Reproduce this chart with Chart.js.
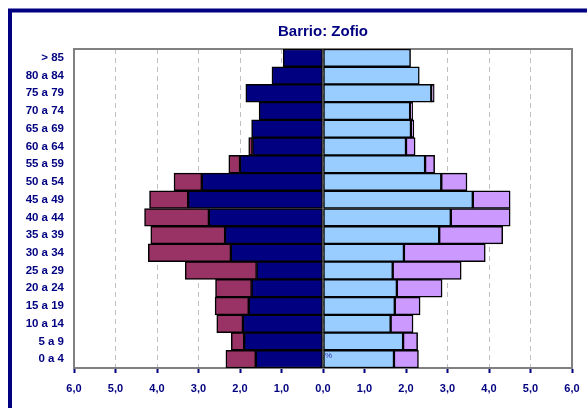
<!DOCTYPE html>
<html>
<head>
<meta charset="utf-8">
<script src="https://cdn.jsdelivr.net/npm/chart.js@4/dist/chart.umd.min.js"></script>
<style>
    body { margin: 0; background: #ffffff; }
    #wrap { width: 587px; height: 408px; }
</style>
</head>
<body>
<div id="wrap"><canvas id="myChart" width="587" height="408"></canvas></div>
<script>
const ageGroups = ["> 85", "80 a 84", "75 a 79", "70 a 74", "65 a 69", "60 a 64", "55 a 59", "50 a 54", "45 a 49",
    "40 a 44", "35 a 39", "30 a 34", "25 a 29", "20 a 24", "15 a 19", "10 a 14", "5 a 9", "0 a 4"];

// left side (men): spanish and foreign, % of population
const menSpanish = [0.96, 1.23, 1.86, 1.54, 1.72, 1.70, 2.00, 2.92, 3.25, 2.75, 2.36, 2.22, 1.60, 1.72, 1.79, 1.93, 1.90, 1.62];
const menForeign = [0.00, 0.00, 0.00, 0.00, 0.00, 0.09, 0.27, 0.67, 0.93, 1.55, 1.79, 1.99, 1.72, 0.87, 0.81, 0.63, 0.31, 0.72];

// right side (women)
const womenSpanish = [2.11, 2.32, 2.61, 2.10, 2.12, 2.00, 2.46, 2.85, 3.61, 3.08, 2.80, 1.95, 1.68, 1.78, 1.73, 1.63, 1.93, 1.71];
const womenForeign = [0.00, 0.00, 0.07, 0.06, 0.07, 0.22, 0.23, 0.62, 0.90, 1.43, 1.53, 1.96, 1.65, 1.09, 0.61, 0.54, 0.35, 0.59];

const navy = "#000080";
const font = "'Liberation Sans', Arial, sans-serif";

const frames = {
    id: "frames",
    beforeDraw(chart) {
        const ctx = chart.ctx;
        ctx.save();
        ctx.strokeStyle = navy;
        ctx.lineWidth = 4;
        ctx.strokeRect(10, 10.5, 640, 460);
        ctx.restore();
    },
    beforeDatasetsDraw(chart) {
        const a = chart.chartArea;
        const ctx = chart.ctx;
        ctx.save();
        ctx.strokeStyle = "#808080";
        ctx.lineWidth = 2;
        ctx.strokeRect(a.left, a.top, a.right - a.left, a.bottom - a.top);
        ctx.restore();
    },
    afterDatasetsDraw(chart) {
        const ctx = chart.ctx;
        const x = chart.scales.x.getPixelForValue(0);
        const y = chart.scales.y.getPixelForValue(ageGroups.length - 1);
        ctx.save();
        ctx.fillStyle = "#3333aa";
        ctx.font = "8px " + font;
        ctx.fillText("%", x + 2, y - 1);
        ctx.restore();
    }
};

const makeSet = (label, values, color, sign) => ({
    label: label,
    data: values.map(v => v * sign),
    backgroundColor: color,
    borderColor: "#000000",
    borderWidth: 1.5,
    borderSkipped: false,
    categoryPercentage: 1,
    barPercentage: 1,
    stack: "p"
});

new Chart("myChart", {
    type: "bar",
    data: {
        labels: ageGroups,
        datasets: [
            makeSet("Hombres españoles", menSpanish, "#000080", -1),
            makeSet("Hombres extranjeros", menForeign, "#993366", -1),
            makeSet("Mujeres españolas", womenSpanish, "#99ccff", 1),
            makeSet("Mujeres extranjeras", womenForeign, "#cc99ff", 1)
        ]
    },
    options: {
        indexAxis: "y",
        responsive: false,
        animation: false,
        layout: {
            padding: { top: 10, right: 15, left: 0, bottom: 0 }
        },
        scales: {
            x: {
                stacked: true,
                min: -6,
                max: 6,
                ticks: {
                    stepSize: 1,
                    color: navy,
                    padding: 9,
                    maxRotation: 0,
                    font: { family: font, size: 11, weight: "bold" },
                    callback: v => Math.abs(v).toFixed(1).replace(".", ",")
                },
                grid: {
                    color: "#c0c0c0",
                    lineWidth: 1,
                    tickColor: navy,
                    tickWidth: 2,
                    tickLength: 5,
                    tickBorderDash: []
                },
                border: {
                    color: navy,
                    width: 2,
                    dash: [5, 4]
                },
                afterFit: scale => {
                    scale.height = 40;
                    scale.paddingLeft = 0;
                    scale.paddingRight = 0;
                }
            },
            y: {
                stacked: true,
                ticks: {
                    color: navy,
                    padding: 10,
                    font: { family: font, size: 11.5, weight: "bold" }
                },
                grid: { display: false, drawTicks: false },
                border: { display: false },
                afterFit: scale => { scale.width = 74; }
            }
        },
        plugins: {
            legend: { display: false },
            tooltip: { enabled: false },
            title: {
                display: true,
                fullSize: false,
                text: "Barrio: Zofio",
                color: navy,
                font: { family: font, size: 15, weight: "bold" },
                padding: { top: 13, bottom: 8 }
            }
        }
    },
    plugins: [frames]
});
</script>
</body>
</html>
